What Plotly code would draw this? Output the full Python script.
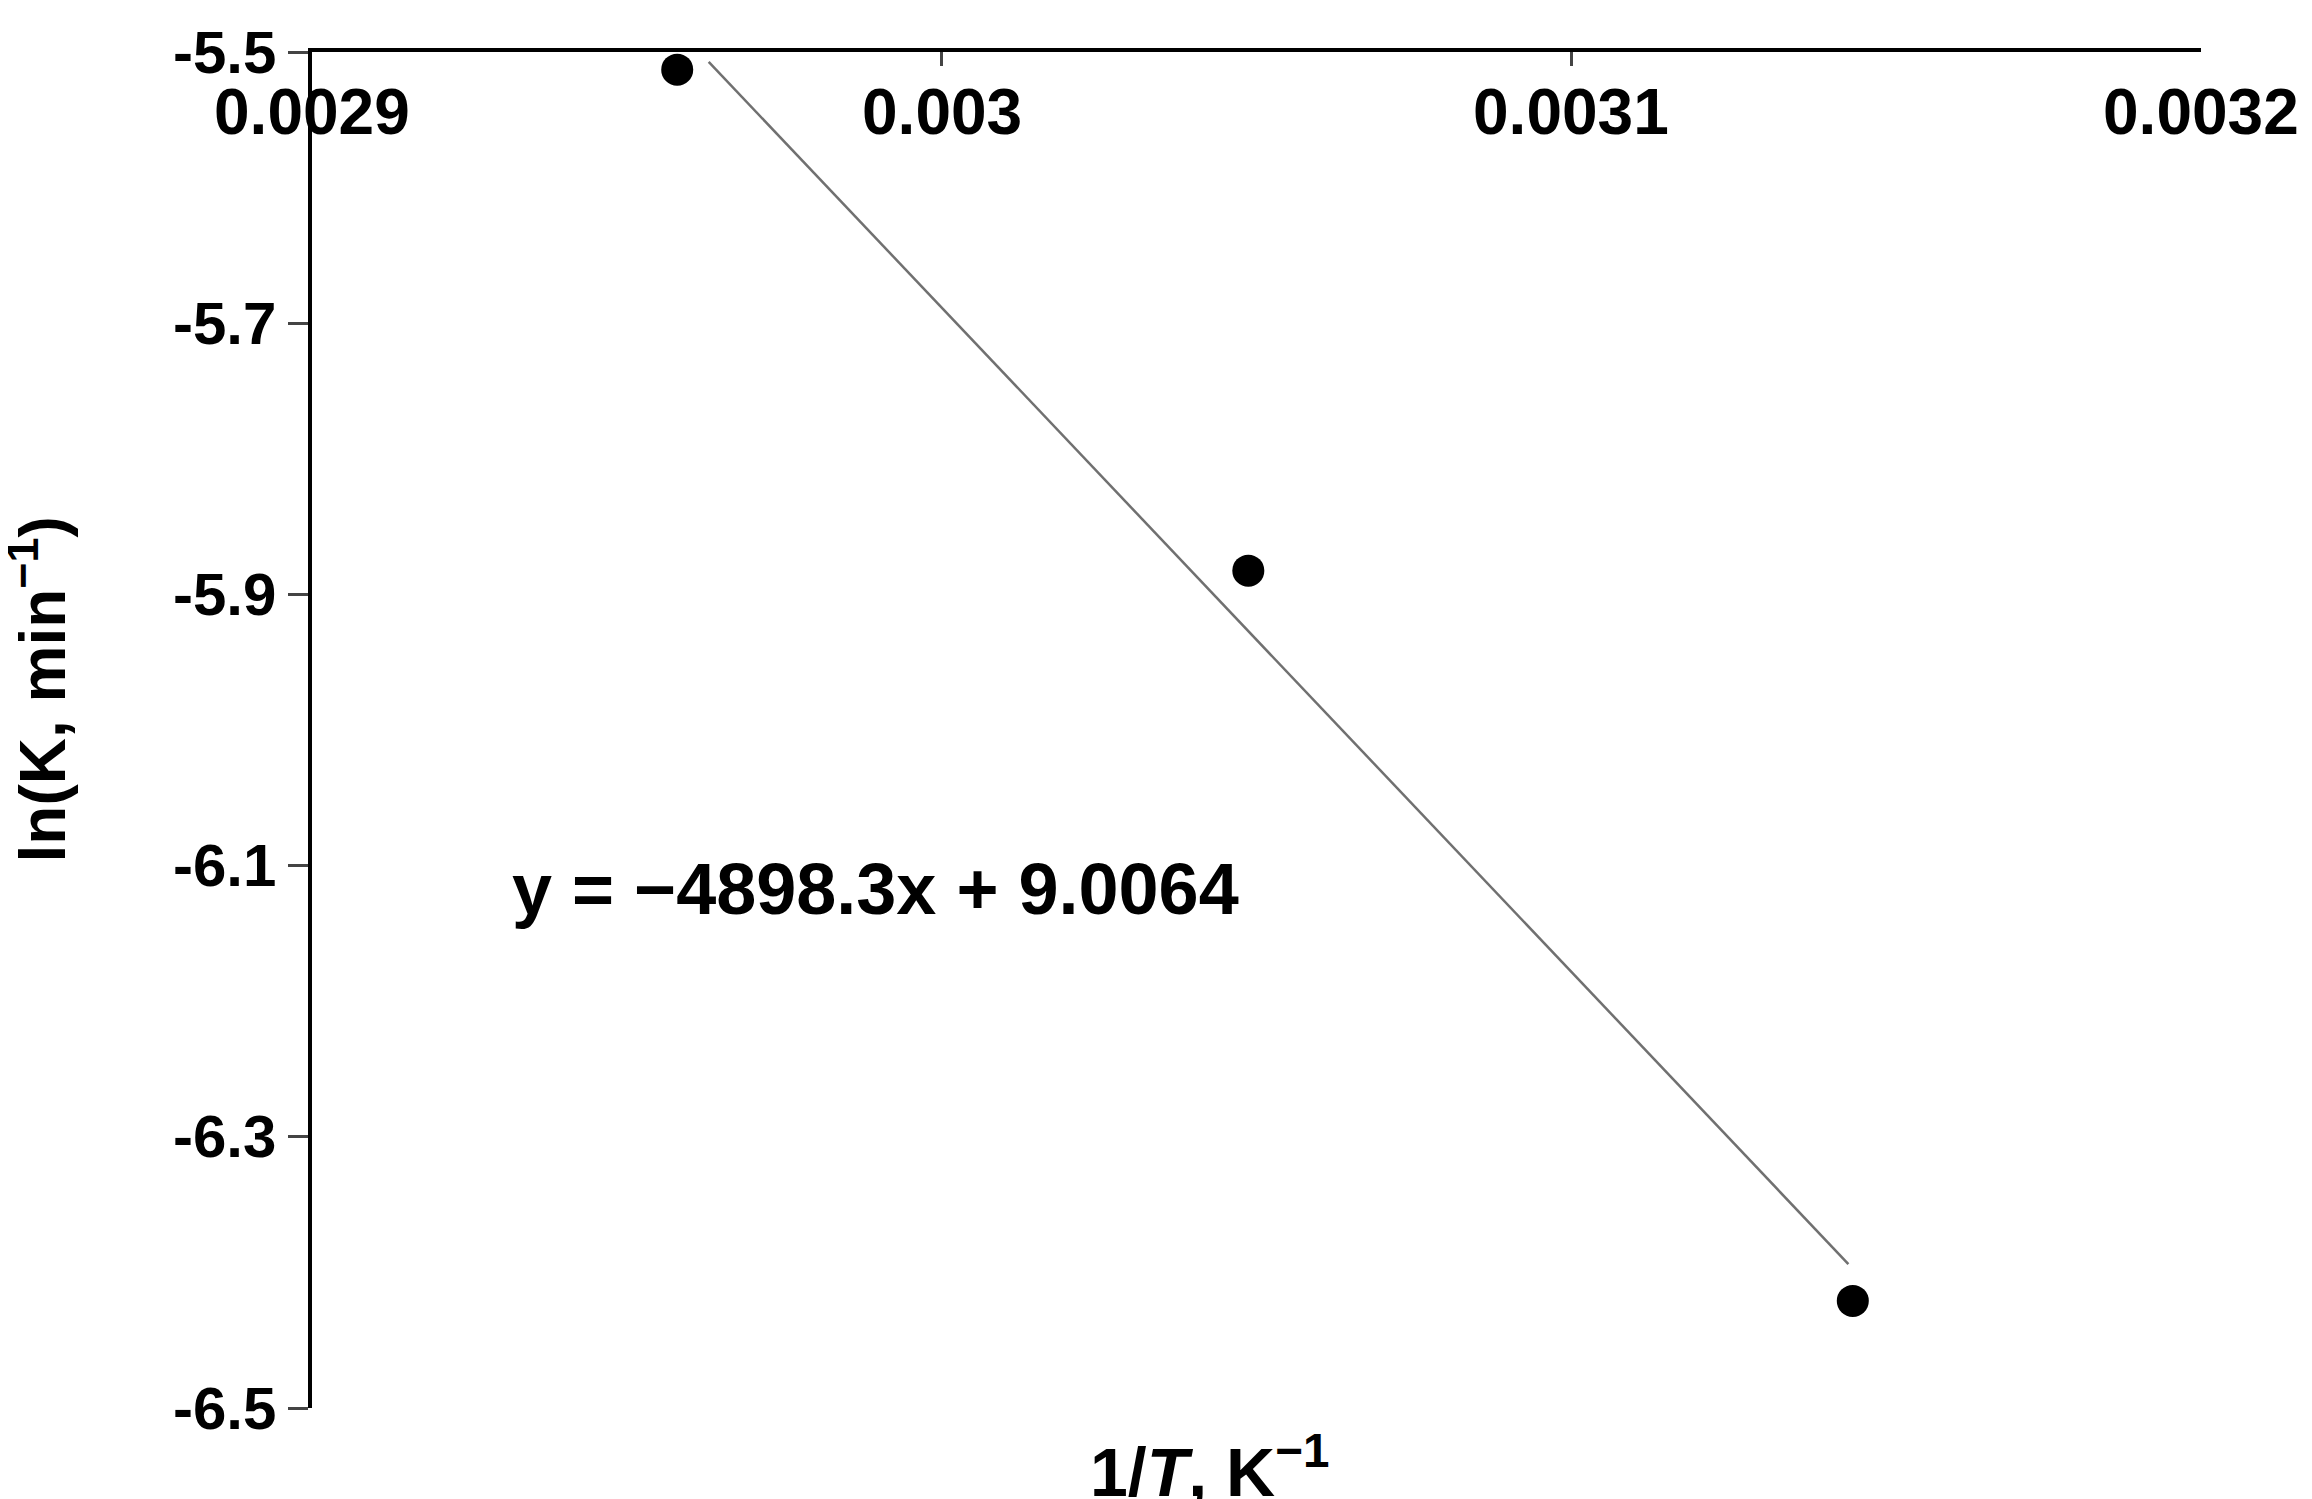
import plotly.graph_objects as go

x_pts = [0.002958, 0.0030487, 0.0031447]
y_pts = [-5.513, -5.8825, -6.421]
fit_x = [0.002963, 0.003144]
slope, intercept = -4898.3, 9.0064
fit_y = [slope * v + intercept for v in fit_x]
x_ticks = [0.0029, 0.003, 0.0031, 0.0032]
x_labels = ["0.0029", "0.003", "0.0031", "0.0032"]
y_ticks = [-5.5, -5.7, -5.9, -6.1, -6.3, -6.5]
y_labels = ["-5.5", "-5.7", "-5.9", "-6.1", "-6.3", "-6.5"]

F = "Liberation Sans, Arial, sans-serif"
fig = go.Figure()
fig.add_trace(go.Scatter(x=fit_x, y=fit_y, mode="lines", line=dict(color="#707070", width=2.5), showlegend=False))
fig.add_trace(go.Scatter(x=x_pts, y=y_pts, mode="markers", marker=dict(color="black", size=32), showlegend=False, cliponaxis=False))

ann = []
for v, t in zip(x_ticks, x_labels):
    ann.append(dict(text=f"<b>{t}</b>", x=v, xref="x", y=1, yref="paper", yshift=-22, xanchor="center",
                    yanchor="top", showarrow=False, font=dict(family=F, size=64)))
for v, t in zip(y_ticks, y_labels):
    ann.append(dict(text=f"<b>{t}</b>", x=0, xref="paper", y=v, yref="y", xshift=-34, xanchor="right",
                    yanchor="middle", showarrow=False, font=dict(family=F, size=60)))
ann += [
    dict(text="<b>1/<i>T</i>, K<sup>−1</sup></b>", xref="paper", yref="paper", x=0.475, y=-0.01,
         xanchor="center", yanchor="top", showarrow=False, font=dict(family=F, size=68)),
    dict(text="<b>ln(K, min<sup>−1</sup>)</b>", xref="paper", yref="paper", x=-0.145, y=0.53,
         textangle=-90, xanchor="center", yanchor="middle", showarrow=False, font=dict(family=F, size=64)),
    dict(text="<b>y = −4898.3x + 9.0064</b>", xref="paper", yref="paper", x=0.105, y=0.383,
         xanchor="left", yanchor="middle", showarrow=False, font=dict(family=F, size=72)),
]

fig.update_layout(
    width=2312, height=1499, paper_bgcolor="white", plot_bgcolor="white",
    margin=dict(l=304, r=119, t=44, b=99),
    font=dict(family=F, size=44, color="black"),
    xaxis=dict(side="top", range=[0.0029, 0.0032], tickvals=x_ticks, showticklabels=False,
               ticks="inside", ticklen=14, tickwidth=3, showline=True, linecolor="black", linewidth=4,
               showgrid=False, zeroline=False),
    yaxis=dict(range=[-6.5, -5.5], tickvals=y_ticks, showticklabels=False,
               ticks="outside", ticklen=20, tickwidth=3, showline=True, linecolor="black", linewidth=4,
               showgrid=False, zeroline=False),
    annotations=ann,
)
fig.write_html("out.html")
